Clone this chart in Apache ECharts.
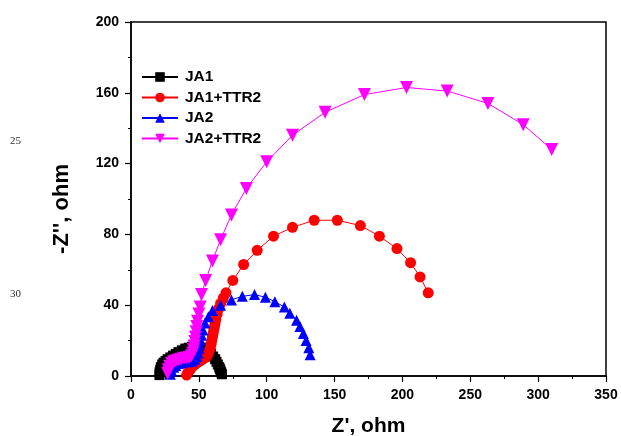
<!DOCTYPE html>
<html><head><meta charset="utf-8">
<script src="https://cdn.jsdelivr.net/npm/echarts@6/dist/echarts.min.js"></script>
<style>html,body{margin:0;padding:0;background:#fff}#c{width:621px;height:436px}</style>
</head><body><div id="c"></div>
<script>
const seriesNames = ['JA1', 'JA1+TTR2', 'JA2', 'JA2+TTR2'];
const xTicks = [0, 50, 100, 150, 200, 250, 300, 350];
const yTicks = [0, 40, 80, 120, 160, 200];

const ja1X = [21, 21, 21.5, 22, 23, 24, 25.5, 27, 29, 31, 33, 35, 37.5, 40, 42.5, 45, 47.5, 50, 52.5, 55, 57, 59, 60.5, 62, 63, 64, 65, 65.5, 66, 66.5, 67];
const ja1Y = [0.5, 2, 3.5, 5, 6.5, 7.5, 8.5, 9.5, 10.5, 11.5, 12.5, 13.5, 14.5, 15.5, 16, 16.5, 16.5, 16.5, 16, 15, 14, 12.5, 11, 9.5, 8, 6.5, 5, 4, 3, 2, 1];

const ja1ttrX = [41, 42, 43.5, 45, 47, 49, 51, 53, 55, 56.5, 57.5, 58.5, 59, 59.5, 60, 60.5, 61, 61.5, 62, 62.5, 63.5, 64.5, 66, 68, 70, 75, 83, 93, 105, 119, 135, 152, 169, 183, 196, 206, 213, 219];
const ja1ttrY = [0.5, 2, 3.5, 5, 6.5, 7.5, 8.5, 9.5, 10.5, 12, 14, 16, 18, 20, 22, 24, 26, 28, 30, 32, 35, 38, 41, 44, 47, 54, 63, 71, 79, 84, 88, 88, 85, 79, 72, 64, 56, 47];

const ja2X = [29, 30, 31.5, 33, 35, 37.5, 40, 42.5, 45, 47, 48.5, 49.5, 50, 50.5, 51, 52, 53, 54.5, 57, 60, 66, 74, 82, 91, 99, 106, 113, 117, 122, 124.5, 127, 129, 131, 132];
const ja2Y = [1, 3, 5, 6, 7, 7.5, 8, 8, 8.5, 9.5, 11, 13, 15.5, 18, 20.5, 23, 26, 30, 33.5, 37, 40, 43, 45, 46, 44.5, 42, 39, 35.5, 31.5, 28, 24, 20, 16, 12];

const ja2ttrX = [27, 27.5, 28.5, 30, 31.5, 33, 35, 37, 39, 41, 43, 44.5, 45.5, 46, 46.5, 47, 47.5, 48, 48.5, 49, 50, 51, 52, 55, 60, 66, 74, 85, 100, 119, 143, 172, 203, 233, 263, 289, 310];
const ja2ttrY = [1.5, 3.5, 5.5, 7, 8, 8.5, 9, 9.5, 10, 10, 10.5, 11.5, 13, 15, 17, 19.5, 22, 25, 28, 31, 35, 39, 46, 54, 65, 77, 91, 106, 121, 136, 149, 159, 163, 161, 154, 142, 128];

const zip = (xs, ys) => xs.map((x, i) => [x, ys[i]]);
const font = 'Liberation Sans, Arial, sans-serif';

const chart = echarts.init(document.getElementById('c'), null, {renderer: 'canvas'});
const mk = (name, xs, ys, color, symbol, size, rot) => ({
  name, type: 'line', data: zip(xs, ys), color,
  symbol, symbolSize: size, symbolRotate: rot || 0,
  lineStyle: {width: 1, color}, itemStyle: {color},
  animation: false
});
chart.setOption({
  backgroundColor: '#fff',
  animation: false,
  grid: {left: 131, right: 15, top: 22, bottom: 60, show: true, borderColor: '#000', borderWidth: 1.5,
    containLabel: false, outerBoundsMode: 'none'},
  legend: {
    orient: 'vertical', left: 136, top: 64, itemGap: 4.5, itemWidth: 36, itemHeight: 12,
    data: seriesNames,
    textStyle: {fontFamily: font, fontWeight: 'bold', fontSize: 15.5, color: '#000', padding: [0, 0, 0, 2]}
  },
  xAxis: {
    type: 'value', min: 0, max: 350, interval: 50,
    name: "Z', ohm", nameLocation: 'middle', nameGap: 40,
    nameTextStyle: {fontFamily: font, fontWeight: 'bold', fontSize: 21, color: '#000'},
    axisLine: {show: true, lineStyle: {color: '#000', width: 1.5}},
    axisTick: {show: true, length: 6, lineStyle: {color: '#000', width: 1.2}},
    minorTick: {show: true, splitNumber: 2, length: 3, lineStyle: {color: '#000', width: 1}},
    splitLine: {show: false},
    axisLabel: {fontFamily: font, fontWeight: 'bold', fontSize: 14, color: '#000', margin: 12,
      formatter: v => xTicks.includes(v) ? String(v) : ''}
  },
  yAxis: {
    type: 'value', min: 0, max: 200, interval: 40,
    name: "-Z'', ohm", nameLocation: 'middle', nameGap: 58, nameRotate: 90,
    nameTextStyle: {fontFamily: font, fontWeight: 'bold', fontSize: 22, color: '#000', padding: [0, 20, 0, 0]},
    axisLine: {show: true, lineStyle: {color: '#000', width: 1.5}},
    axisTick: {show: true, length: 6, lineStyle: {color: '#000', width: 1.2}},
    minorTick: {show: true, splitNumber: 2, length: 3, lineStyle: {color: '#000', width: 1}},
    splitLine: {show: false},
    axisLabel: {fontFamily: font, fontWeight: 'bold', fontSize: 14, color: '#000', margin: 12,
      formatter: v => yTicks.includes(v) ? String(v) : ''}
  },
  graphic: [
    {type: 'text', left: 10, top: 136, style: {text: '25', fontFamily: 'Liberation Serif, Times New Roman, serif', fontSize: 11, fill: '#333'}},
    {type: 'text', left: 10, top: 289, style: {text: '30', fontFamily: 'Liberation Serif, Times New Roman, serif', fontSize: 11, fill: '#333'}}
  ],
  series: [
    mk('JA1', ja1X, ja1Y, '#000000', 'rect', 10),
    mk('JA1+TTR2', ja1ttrX, ja1ttrY, '#ff0000', 'circle', 11),
    mk('JA2', ja2X, ja2Y, '#0000ff', 'triangle', 11),
    mk('JA2+TTR2', ja2ttrX, ja2ttrY, '#ff00ff', 'triangle', 13, 180)
  ]
});
</script></body></html>
